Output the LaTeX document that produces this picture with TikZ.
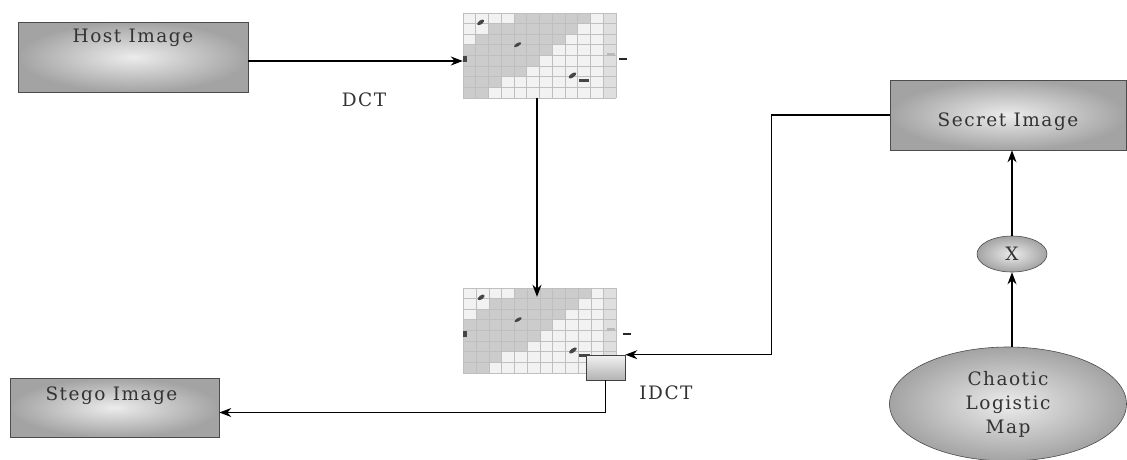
\documentclass[tikz,border=0pt]{standalone}
\usepackage{fontspec}
\newfontfamily\lblfont{DejaVu Serif}[LetterSpace=8]
\usetikzlibrary{arrows.meta,shapes.geometric}
\tikzset{
  box/.style={rectangle, draw=gray!60!black, line width=0.6pt, inner color=gray!15, outer color=gray!72, inner sep=0pt},
  oval/.style={ellipse, draw=gray!60!black, line width=0.6pt, inner color=gray!15, outer color=gray!72, inner sep=0pt},
  lbl/.style={font=\lblfont\fontsize{18.5}{24}\selectfont, text=black!80},
  conn/.style={line width=1.2pt, black},
  arr/.style={conn, -{Stealth[length=12pt,width=9pt]}},
  blob/.style={fill=gray!55!black},
  gridnode/.style={rectangle, minimum width=153pt, minimum height=85pt, inner sep=0pt},
}
\newcommand\drawdctgrid[1]{%
  \begin{scope}[shift={(#1.north west)}, x=12.75pt, y=-10.625pt]
    \fill[gray!10] (0,0) rectangle (12,8);
    \foreach \j/\a/\b in {0/4/9,1/2/8,2/1/7,3/0/6,4/0/5,5/0/4,6/0/2,7/0/1}
      \fill[gray!40] (\a,\j) rectangle (\b+1,\j+1);
    \fill[gray!25] (11,0) rectangle (12,8);
    \foreach \i in {0,...,12} \draw[gray!50, line width=0.6pt] (\i,0) -- (\i,8);
    \foreach \j in {0,...,8} \draw[gray!50, line width=0.6pt] (0,\j) -- (12,\j);
    \fill[blob, rotate around={35:(1.4,0.9)}] (1.4,0.9) ellipse [x radius=4pt, y radius=2pt];
    \fill[blob, rotate around={30:(4.3,3.0)}] (4.3,3.0) ellipse [x radius=4pt, y radius=1.6pt];
    \fill[blob, rotate around={35:(8.6,5.9)}] (8.6,5.9) ellipse [x radius=4.5pt, y radius=2pt];
    \fill[blob] (9.1,6.2) rectangle (9.9,6.5);
    \fill[blob] (0,4.1) rectangle (0.3,4.6);
    \fill[gray!55] (11.3,3.8) rectangle (11.9,4.1);
  \end{scope}}
\begin{document}
\begin{tikzpicture}[x=1pt,y=-1pt]
  \fill[white] (0,0) rectangle (1127,459);
  \useasboundingbox (0,0) rectangle (1127,459);

  % boxes
  \node[box, minimum width=230pt, minimum height=70pt,
        label={[lbl,yshift=19pt]center:Host Image}] (host) at (133,57) {};
  \node[box, minimum width=236pt, minimum height=70pt,
        label={[lbl,yshift=-7pt]center:Secret Image}] (secret) at (1008,115) {};
  \node[box, minimum width=209pt, minimum height=59pt,
        label={[lbl,yshift=12pt,xshift=-3pt]center:Stego Image}] (stego) at (114.5,407.5) {};

  % DCT grids
  \node[gridnode] (g1) at (539.5,55.5) {};
  \node[gridnode] (g2) at (540,330.5) {};
  \drawdctgrid{g1}
  \drawdctgrid{g2}
  \draw[line width=2pt, gray!30!black] ([xshift=3pt,yshift=-3pt]g1.east) -- ++(8,0);
  \draw[line width=2pt, gray!30!black] ([xshift=6pt,yshift=-3pt]g2.east) -- ++(8,0);

  % IDCT block
  \node[rectangle, draw=gray!50!black, line width=0.6pt, top color=gray!10, bottom color=gray!60,
        minimum width=39pt, minimum height=25pt, inner sep=0pt] (sb) at (605.5,367.5) {};

  % labels
  \node[lbl] (dct) at (364,100) {DCT};
  \node[lbl] (idct) at (666,393) {IDCT};

  % ellipses
  \node[oval, minimum width=70pt, minimum height=36pt, lbl] (xnode) at (1012,254) {X};
  \node[oval, minimum width=237pt, minimum height=114pt, lbl, align=center] (chaos) at (1008,404)
        {Chaotic\\Logistic\\Map};

  % connectors
  \draw[arr] ([yshift=-4pt]host.east) -- ([yshift=-4pt]host.east -| g1.west);
  \draw[arr] ([xshift=-2.5pt]g1.south) -- ([xshift=-3pt,yshift=-9pt]g2.north);
  \draw[arr] (secret.west) -- ++(-118,0) |- (sb.north east);
  \draw[arr] (sb.south) |- ([yshift=-5pt]stego.east);
  \draw[arr] (xnode.north) -- (xnode.north |- secret.south);
  \draw[arr] (xnode.south |- chaos.north) -- (xnode.south);
\end{tikzpicture}
\end{document}
